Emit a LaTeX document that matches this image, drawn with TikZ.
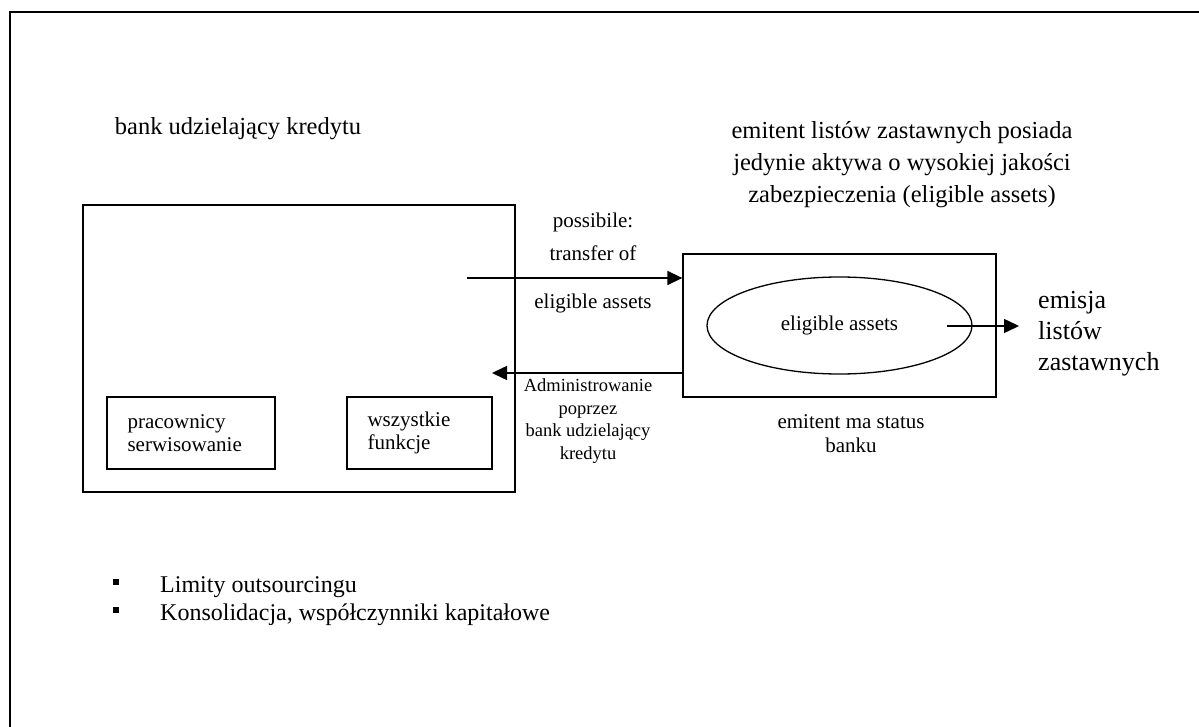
\documentclass[tikz,border=0pt]{standalone}
\usepackage{fontspec}
\setmainfont{Liberation Serif}
\usetikzlibrary{arrows.meta,shapes.geometric}

\tikzset{
  frameline/.style={line width=1.7pt},
  boxline/.style={draw, line width=1.3pt, inner sep=0pt},
  arr/.style={line width=1.5pt, -{Triangle[length=15pt,width=14pt]}},
  bigtxt/.style={font=\fontsize{24.5}{32}\selectfont, align=center, inner sep=0pt},
  midtxt/.style={font=\fontsize{21}{23.5}\selectfont, align=center, inner sep=0pt},
  smalltxt/.style={font=\fontsize{18.5}{22.5}\selectfont, align=center, inner sep=0pt},
  bulletsq/.style={fill, inner sep=0pt, minimum size=6pt},
}

\begin{document}
\begin{tikzpicture}[x=1pt, y=-1pt]
\useasboundingbox (0,0) rectangle (1199,727);

% outer frame (top and left edges only)
\coordinate (fTR) at (1199,12);
\coordinate (fTL) at (10,12);
\coordinate (fBL) at (10,727);
\draw[frameline] (fTR) -- (fTL) -- (fBL);

% headings
\node[bigtxt] (bankTitle) at (238,129) {bank udzielający kredytu};
\node[bigtxt] (emitTitle) at (902,165) {emitent listów zastawnych posiada\\jedynie aktywa o wysokiej jakości\\zabezpieczenia (eligible assets)};

% lending bank with its two inner boxes
\node[boxline, minimum width=432pt, minimum height=287pt] (bank) at (299,348.5) {};
\node[boxline, minimum width=168pt, minimum height=72pt] (staff) at (191,433) {};
\node[midtxt, align=left, anchor=west] (staffTxt) at ([xshift=21pt]staff.west) {pracownicy\\serwisowanie};
\node[boxline, minimum width=145pt, minimum height=72pt] (funcs) at (419.5,433) {};
\node[midtxt, align=left, anchor=west] (funcsTxt) at ([xshift=21pt]funcs.west) {wszystkie\\funkcje};

% issuer with the pool of eligible assets
\node[boxline, minimum width=313pt, minimum height=143pt] (emit) at (839.5,325.5) {};
\node[ellipse, draw, line width=1.3pt, inner sep=0pt, minimum width=265pt, minimum height=97pt, midtxt] (pool) at (839.5,325.5) {eligible assets};
\node[midtxt] (emitStatus) at (851,433.5) {emitent ma status\\banku};

% issuance
\node[font=\fontsize{26}{31}\selectfont, align=left, anchor=west, inner sep=0pt] (issue) at (1038,334) {emisja\\listów\\zastawnych};
\coordinate (poolOut) at (947,326);
\coordinate (issueIn) at (1019,326);
\draw[arr] (poolOut) -- (issueIn);

% transfer of assets to the issuer
\coordinate (trStart) at (467,278);
\draw[arr] (trStart) -- (trStart -| emit.west);
\node[midtxt] (possTxt) at (593,222) {possibile:};
\node[midtxt] (trTxt) at (593,253) {transfer of};
\node[midtxt] (eaTxt) at (593,303) {eligible assets};

% administration by the lending bank
\coordinate (admEnd) at (492,373);
\draw[arr] (admEnd -| emit.west) -- (admEnd);
\node[smalltxt] (admTxt) at (588,421) {Administrowanie\\poprzez\\bank udzielający\\kredytu};

% bullet list
\node[bulletsq] (b1) at (116,582) {};
\node[bulletsq] (b2) at (116,610) {};
\node[font=\fontsize{24}{28}\selectfont, anchor=base west, inner sep=0pt] (l1) at (160,592) {Limity outsourcingu};
\node[font=\fontsize{24}{28}\selectfont, anchor=base west, inner sep=0pt] (l2) at (160,620) {Konsolidacja, współczynniki kapitałowe};
\end{tikzpicture}
\end{document}
